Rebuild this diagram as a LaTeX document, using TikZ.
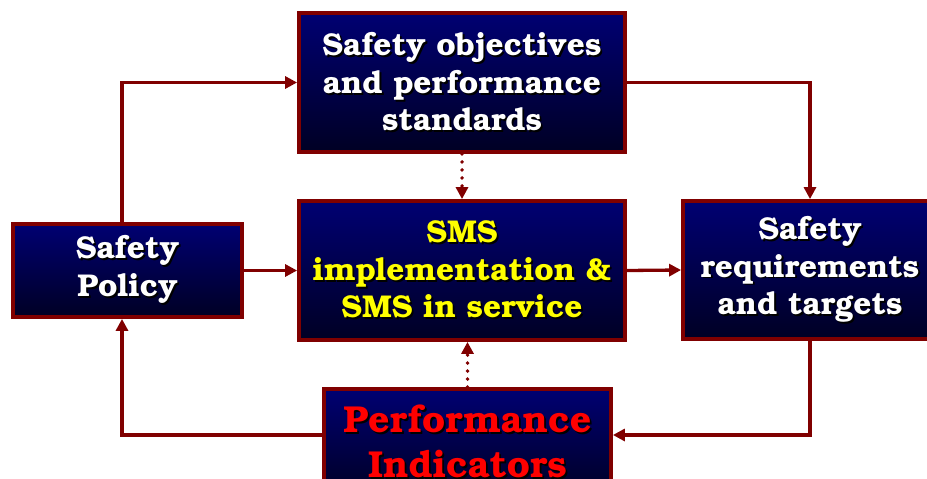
\documentclass[tikz,border=0pt]{standalone}
\usepackage[T1]{fontenc}
\usepackage{bookman}
\usetikzlibrary{arrows.meta}
\definecolor{boxred}{HTML}{800000}
\definecolor{navytop}{HTML}{000072}
\definecolor{navybot}{HTML}{000024}
\definecolor{smsyellow}{HTML}{FFFF00}
\definecolor{pired}{HTML}{FF0000}
\newcommand\shtx[2]{\makebox[0pt][l]{\hspace*{1.8pt}\raisebox{-1.8pt}{\color{black}#2}}\textcolor{#1}{#2}}
\begin{document}
\begin{tikzpicture}[x=1pt,y=-1pt,
  box/.style={draw=boxred, line width=3.8pt, top color=navytop, bottom color=navybot,
    inner sep=0pt, align=center, font=\bfseries\fontsize{31.5}{37.5}\selectfont},
  link/.style={draw=boxred, line width=3.3pt, -{Triangle[length=12pt,width=12pt]}},
  dotlink/.style={link, line width=3.8pt, line cap=round, dash pattern=on 0pt off 8pt}]
\useasboundingbox (0,0) rectangle (927,479);
\clip (0,0) rectangle (927,479);
\node[box, minimum width=326pt, minimum height=139pt] (obj) at (462,82.5)
  {\shtx{white}{Safety objectives}\\ \shtx{white}{and performance}\\ \shtx{white}{standards}};
\node[box, minimum width=326pt, minimum height=139pt] (sms) at (462,270.5)
  {\shtx{smsyellow}{SMS}\\ \shtx{smsyellow}{implementation \&}\\ \shtx{smsyellow}{SMS in service}};
\node[box, minimum width=229pt, minimum height=93pt] (pol) at (127.5,270.5)
  {\shtx{white}{Safety}\\ \shtx{white}{Policy}};
\node[box, minimum width=254pt, minimum height=138pt] (req) at (810,270)
  {\shtx{white}{Safety}\\ \shtx{white}{requirements}\\ \shtx{white}{and targets}};
\node[box, minimum width=287pt, minimum height=106pt, font=\bfseries\fontsize{37.5}{45}\selectfont] (pi) at (467.5,442)
  {\shtx{pired}{Performance}\\ \shtx{pired}{Indicators}};
\draw[link] ([xshift=-5.5pt]pol.north) |- (obj.west);
\draw[link] (obj.east) -| (req.north);
\draw[dotlink] (obj.south) -- (sms.north);
\draw[link] (pol.east) -- (sms.west);
\draw[link] (sms.east) -- (req.west);
\draw[link] (req.south) |- ([yshift=7pt]pi.east);
\draw[link] ([yshift=7pt]pi.west) -| ([xshift=-5.5pt]pol.south);
\draw[dotlink] (pi.north) -- (pi.north |- sms.south);
\end{tikzpicture}
\end{document}
